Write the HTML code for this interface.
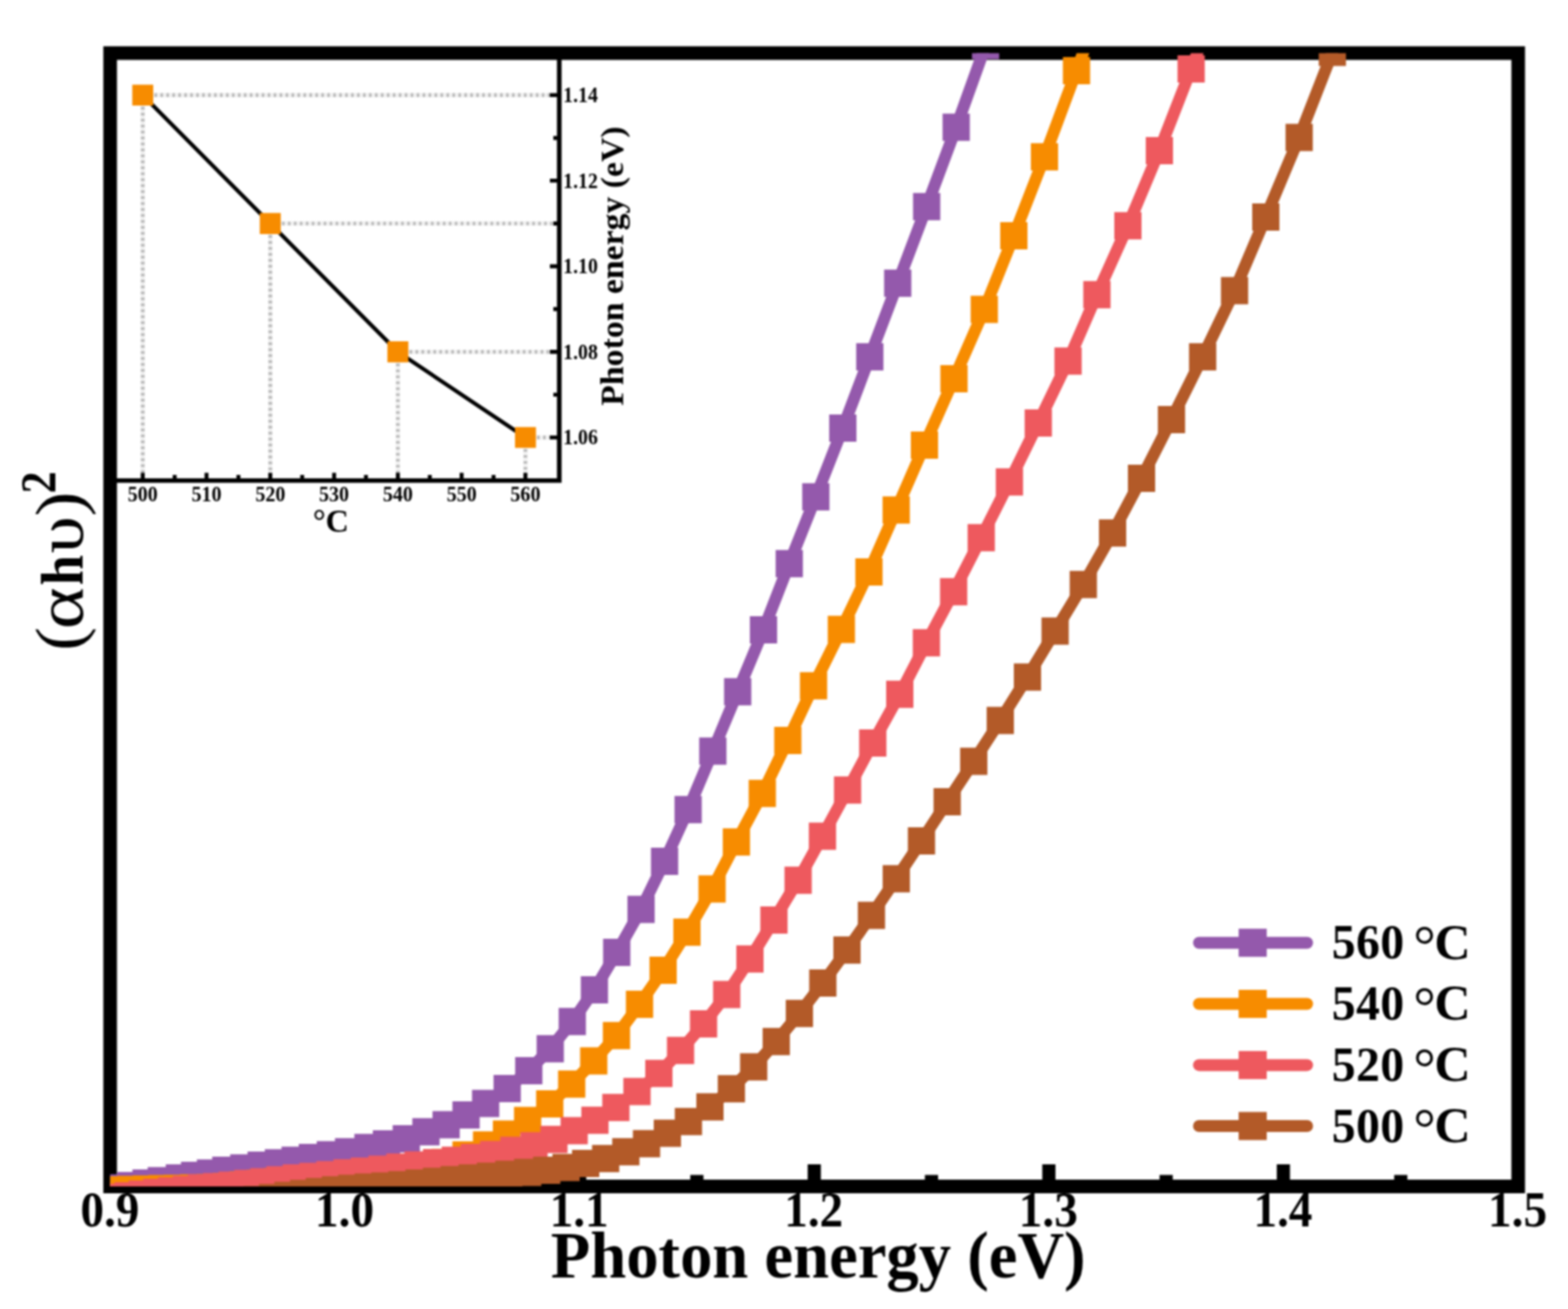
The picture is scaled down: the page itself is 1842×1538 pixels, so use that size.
<!DOCTYPE html>
<html lang="en">
<head>
<meta charset="utf-8">
<title>Tauc plot</title>
<style>
html,body{margin:0;padding:0;background:#fff;}
body{width:1842px;height:1538px;overflow:hidden;}
svg{display:block;filter:blur(0.9px);}
text{font-family:"Liberation Serif","DejaVu Serif",serif;font-weight:bold;fill:#000;}
</style>
</head>
<body>
<svg width="1842" height="1538" viewBox="0 0 1842 1538" role="img" aria-label="Tauc plot: (αhυ)2 versus photon energy for films annealed at 500 to 560 °C, with band-gap inset">
<defs><clipPath id="cp"><rect x="129.4" y="62.4" width="1654.1" height="1331.6"/></clipPath></defs>
<rect width="1842" height="1538" fill="#fff"/>
<g id="main-axes">
<rect x="129.4" y="62.4" width="1654.1" height="1331.6" fill="none" stroke="#000" stroke-width="16"/>
<path d="M275.3 1380.5v10h-15.5v-10zM413.1 1368v24h-15.5v-24zM550.9 1380.5v10h-15.5v-10zM688.7 1368v24h-15.5v-24zM826.4 1380.5v10h-15.5v-10zM964.3 1368v24h-15.5v-24zM1102 1380.5v10h-15.5v-10zM1239.9 1368v24h-15.5v-24zM1377.7 1380.5v10h-15.5v-10zM1515.4 1368v24h-15.5v-24zM1653.3 1380.5v10h-15.5v-10z" fill="#000"/>
</g>
<g id="inset">
<path d="M167.7 111.8H657M167.7 111.8V564.6M317.5 262.6H657M317.5 262.6V564.6M467.4 413.4H657M467.4 413.4V564.6M617.2 514H657M617.2 514V564.6" fill="none" stroke="#f0f0f0" stroke-width="5"/>
<path d="M167.7 111.8H657M167.7 111.8V564.6M317.5 262.6H657M317.5 262.6V564.6M467.4 413.4H657M467.4 413.4V564.6M617.2 514H657M617.2 514V564.6" fill="none" stroke="#b2b2b2" stroke-width="4.4" stroke-dasharray="2.6 4.4"/>
<path d="M657 62.4V564.6H129.4" fill="none" stroke="#000" stroke-width="5.4" stroke-linejoin="miter"/>
<path d="M167.7 564.6v-9M205.2 564.6v-6.5M242.6 564.6v-9M280.1 564.6v-6.5M317.5 564.6v-9M355 564.6v-6.5M392.5 564.6v-9M429.9 564.6v-6.5M467.4 564.6v-9M504.9 564.6v-6.5M542.3 564.6v-9M579.8 564.6v-6.5M617.2 564.6v-9M657 514h-11M657 463.7h-7M657 413.4h-11M657 363.1h-7M657 312.9h-11M657 262.6h-7M657 212.3h-11M657 162.1h-7M657 111.8h-11" fill="none" stroke="#000" stroke-width="4.6"/>
<path d="M167.7 111.8 L317.5 262.6 L467.4 413.4 L617.2 514" fill="none" stroke="#000" stroke-width="4.6"/>
<path d="M155.4 99.5h24.6v24.6h-24.6zM305.2 250.3h24.6v24.6h-24.6zM455.1 401.1h24.6v24.6h-24.6zM605 501.7h24.6v24.6h-24.6z" fill="#f78c00"/>
<text transform="translate(167.7 588.8) scale(0.96 1)" font-size="24.5" text-anchor="middle">500</text><text transform="translate(242.62 588.8) scale(0.96 1)" font-size="24.5" text-anchor="middle">510</text><text transform="translate(317.55 588.8) scale(0.96 1)" font-size="24.5" text-anchor="middle">520</text><text transform="translate(392.47 588.8) scale(0.96 1)" font-size="24.5" text-anchor="middle">530</text><text transform="translate(467.4 588.8) scale(0.96 1)" font-size="24.5" text-anchor="middle">540</text><text transform="translate(542.33 588.8) scale(0.96 1)" font-size="24.5" text-anchor="middle">550</text><text transform="translate(617.25 588.8) scale(0.96 1)" font-size="24.5" text-anchor="middle">560</text>
<text transform="translate(661.6 120.2) scale(0.95 1)" font-size="24.5">1.14</text><text transform="translate(661.6 220.74) scale(0.95 1)" font-size="24.5">1.12</text><text transform="translate(661.6 321.28) scale(0.95 1)" font-size="24.5">1.10</text><text transform="translate(661.6 421.82) scale(0.95 1)" font-size="24.5">1.08</text><text transform="translate(661.6 522.36) scale(0.95 1)" font-size="24.5">1.06</text>
<text transform="translate(388.6 625.3) scale(0.97 1)" font-size="39" text-anchor="middle">°C</text>
<text transform="translate(732.2 312.6) rotate(-90) scale(1.03 1)" font-size="38.5" text-anchor="middle">Photon energy (eV)</text>
</g>
<g id="curves" clip-path="url(#cp)">
<path d="M1193.3 -46.4 L1157.8 53.5 L1123.3 149.6 L1088.6 242.8 L1054.6 332.7 L1021.8 419.3 L990.1 502.9 L958.4 583.8 L927.2 662.2 L896.9 740.1 L866.6 812.7 L837.4 882.6 L808.4 951.3 L780.7 1012 L753.1 1068.5 L724.5 1119.1 L698.3 1162.9 L672.3 1200.3 L646.4 1232.2 L621.2 1258 L595.8 1279 L570.5 1296.5 L547.5 1310.1 L524.1 1321.5 L500.4 1329.7 L477.3 1338 L454 1344.1 L432.3 1348.3 L409.5 1353.3 L388.1 1356.8 L367 1360 L346.7 1363.2 L327.1 1366.2 L306.8 1368.9 L286.4 1372.2 L265.3 1375 L247.3 1378.2 L228.6 1381.1 L210.7 1384.1 L189.5 1387.2 L171.6 1390.1 L153.7 1392.9 L134 1395.8 L115 1398.5" fill="none" stroke="#9459ac" stroke-width="14" stroke-linejoin="round"/>
<path d="M1141.8 37.5h32v32h-32zM1107.3 133.6h32v32h-32zM1072.6 226.8h32v32h-32zM1038.6 316.7h32v32h-32zM1005.8 403.3h32v32h-32zM974.1 486.9h32v32h-32zM942.4 567.8h32v32h-32zM911.2 646.2h32v32h-32zM880.9 724.1h32v32h-32zM850.6 796.7h32v32h-32zM821.4 866.6h32v32h-32zM792.4 935.3h32v32h-32zM764.7 996h32v32h-32zM737.1 1052.5h32v32h-32zM708.5 1103.1h32v32h-32zM682.3 1146.9h32v32h-32zM656.3 1184.3h32v32h-32zM630.4 1216.2h32v32h-32zM605.2 1242h32v32h-32zM579.8 1263h32v32h-32zM554.5 1280.5h32v32h-32zM531.5 1294.1h32v32h-32zM508.1 1305.5h32v32h-32zM484.4 1313.7h32v32h-32zM461.3 1322h32v32h-32zM438 1328.1h32v32h-32zM416.3 1332.3h32v32h-32zM393.5 1337.3h32v32h-32zM372.1 1340.8h32v32h-32zM351 1344h32v32h-32zM330.7 1347.2h32v32h-32zM311.1 1350.2h32v32h-32zM290.8 1352.9h32v32h-32zM270.4 1356.2h32v32h-32zM249.3 1359h32v32h-32zM231.3 1362.2h32v32h-32zM212.6 1365.1h32v32h-32zM194.7 1368.1h32v32h-32zM173.5 1371.2h32v32h-32zM155.6 1374.1h32v32h-32zM137.7 1376.9h32v32h-32zM118 1379.8h32v32h-32zM99 1382.5h32v32h-32z" fill="#9459ac"/>
<path d="M1303.3 -22.1 L1264.6 83.1 L1227 184.3 L1191 277 L1156.3 363.6 L1120.7 445 L1086 523.1 L1052.8 599.3 L1020.8 672 L988.4 739.6 L955.7 805.7 L925.5 869.9 L895.5 932.3 L865.1 989.2 L836.5 1044.4 L807 1095.2 L779 1140.1 L751.3 1180.1 L724.2 1216.8 L697.5 1246.6 L671.6 1273.7 L645.8 1297.1 L619.8 1316.5 L595 1332.5 L571.6 1345.2 L547.5 1356.9 L523.1 1365.8 L499.8 1370.5 L476.8 1373.5 L454.2 1375.9 L431.9 1378 L410.1 1380 L388.5 1382.2 L367.3 1384.4 L346.4 1386.6 L325.8 1388.6 L305.6 1390.5 L285.6 1392.3 L265.9 1394.1 L246.6 1395.4 L227.5 1395.8 L208.7 1396.2 L190.2 1396.6 L171.9 1397 L153.9 1397.6 L136.1 1398.1 L118.6 1398.3 L101.4 1398.5" fill="none" stroke="#f78c00" stroke-width="14" stroke-linejoin="round"/>
<path d="M1248.6 67.1h32v32h-32zM1211 168.3h32v32h-32zM1175 261h32v32h-32zM1140.3 347.6h32v32h-32zM1104.7 429h32v32h-32zM1070 507.1h32v32h-32zM1036.8 583.3h32v32h-32zM1004.8 656h32v32h-32zM972.4 723.6h32v32h-32zM939.7 789.7h32v32h-32zM909.5 853.9h32v32h-32zM879.5 916.3h32v32h-32zM849.1 973.2h32v32h-32zM820.5 1028.4h32v32h-32zM791 1079.2h32v32h-32zM763 1124.1h32v32h-32zM735.3 1164.1h32v32h-32zM708.2 1200.8h32v32h-32zM681.5 1230.6h32v32h-32zM655.6 1257.7h32v32h-32zM629.8 1281.1h32v32h-32zM603.8 1300.5h32v32h-32zM579 1316.5h32v32h-32zM555.6 1329.2h32v32h-32zM531.5 1340.9h32v32h-32zM507.1 1349.8h32v32h-32zM483.8 1354.5h32v32h-32zM460.8 1357.5h32v32h-32zM438.2 1359.9h32v32h-32zM415.9 1362h32v32h-32zM394.1 1364h32v32h-32zM372.5 1366.2h32v32h-32zM351.3 1368.4h32v32h-32zM330.4 1370.6h32v32h-32zM309.8 1372.6h32v32h-32zM289.6 1374.5h32v32h-32zM269.6 1376.3h32v32h-32zM249.9 1378.1h32v32h-32zM230.6 1379.4h32v32h-32zM211.5 1379.8h32v32h-32zM192.7 1380.2h32v32h-32zM174.2 1380.6h32v32h-32zM155.9 1381h32v32h-32zM137.9 1381.6h32v32h-32zM120.1 1382.1h32v32h-32zM102.6 1382.3h32v32h-32zM85.4 1382.5h32v32h-32z" fill="#f78c00"/>
<path d="M1437.7 -18.7 L1399.3 81 L1362 176.9 L1325 265.2 L1288.6 346.2 L1254.7 424.2 L1219.7 496.9 L1185.8 566.3 L1152.7 631.8 L1120.3 695.2 L1088.3 755.2 L1057 815.7 L1025.3 872.9 L995.7 928.3 L966.2 982.5 L937.6 1034.2 L909.2 1081 L881 1126.7 L853.7 1168.4 L826.5 1203.1 L799.5 1234.3 L774 1261.3 L748.3 1282.5 L723.5 1301.2 L698.9 1316.2 L674.5 1328.4 L650.7 1338.7 L627.3 1346.2 L603.6 1351.4 L579.9 1356.5 L557.2 1360.1 L534.9 1363.2 L512.9 1366.1 L491.2 1368.8 L469.8 1371.3 L448.8 1373.7 L428.1 1376 L407.7 1378.1 L387.6 1380.2 L367.7 1382.2 L348.2 1384.1 L328.9 1386.2 L310 1388.4 L291.2 1390.6 L272.8 1392.5 L254.6 1394.2 L236.6 1395.7 L218.9 1397.4 L201.5 1399.2 L184.2 1401.1 L167.2 1403 L150.5 1404.9 L133.9 1406.7 L117.6 1408.3 L101.5 1409.9" fill="none" stroke="#ee595e" stroke-width="14" stroke-linejoin="round"/>
<path d="M1383.3 65h32v32h-32zM1346 160.9h32v32h-32zM1309 249.2h32v32h-32zM1272.6 330.2h32v32h-32zM1238.7 408.2h32v32h-32zM1203.7 480.9h32v32h-32zM1169.8 550.3h32v32h-32zM1136.7 615.8h32v32h-32zM1104.3 679.2h32v32h-32zM1072.3 739.2h32v32h-32zM1041 799.7h32v32h-32zM1009.3 856.9h32v32h-32zM979.7 912.3h32v32h-32zM950.2 966.5h32v32h-32zM921.6 1018.2h32v32h-32zM893.2 1065h32v32h-32zM865 1110.7h32v32h-32zM837.7 1152.4h32v32h-32zM810.5 1187.1h32v32h-32zM783.5 1218.3h32v32h-32zM758 1245.3h32v32h-32zM732.3 1266.5h32v32h-32zM707.5 1285.2h32v32h-32zM682.9 1300.2h32v32h-32zM658.5 1312.4h32v32h-32zM634.7 1322.7h32v32h-32zM611.3 1330.2h32v32h-32zM587.6 1335.4h32v32h-32zM563.9 1340.5h32v32h-32zM541.2 1344.1h32v32h-32zM518.9 1347.2h32v32h-32zM496.9 1350.1h32v32h-32zM475.2 1352.8h32v32h-32zM453.8 1355.3h32v32h-32zM432.8 1357.7h32v32h-32zM412.1 1360h32v32h-32zM391.7 1362.1h32v32h-32zM371.6 1364.2h32v32h-32zM351.7 1366.2h32v32h-32zM332.2 1368.1h32v32h-32zM312.9 1370.2h32v32h-32zM294 1372.4h32v32h-32zM275.2 1374.6h32v32h-32zM256.8 1376.5h32v32h-32zM238.6 1378.2h32v32h-32zM220.6 1379.7h32v32h-32zM202.9 1381.4h32v32h-32zM185.5 1383.2h32v32h-32zM168.2 1385.1h32v32h-32zM151.2 1387h32v32h-32zM134.5 1388.9h32v32h-32zM117.9 1390.7h32v32h-32zM101.6 1392.3h32v32h-32zM85.5 1393.9h32v32h-32z" fill="#ee595e"/>
<path d="M1605.4 -42.4 L1565.2 61.5 L1526.2 161.4 L1487 255 L1450.3 341.4 L1412.8 419.2 L1376.2 492.9 L1341 562.1 L1307 626.3 L1272.6 686.8 L1239.5 741.6 L1207 795.4 L1175.1 846.4 L1143.9 894.6 L1112.7 942 L1082.5 988 L1052.9 1032.4 L1023.7 1075.4 L995 1116.3 L966.6 1155.1 L939.1 1190.8 L911.9 1223.8 L885.4 1253.5 L859.2 1279.2 L834 1300.5 L808.7 1317.7 L784 1331.4 L759.5 1343.7 L735.2 1353.3 L711.5 1361.3 L688 1367.1 L665 1371.8 L642.3 1375 L619.9 1377.5 L597.8 1379.8 L576.1 1381.9 L554.7 1383.9 L533.6 1385.9 L512.8 1387.9 L492.3 1390 L472.1 1391.9 L452.2 1393.5 L432.5 1394.8 L413.2 1396.2 L394.1 1398 L375.2 1400.1 L356.7 1402.3 L338.3 1404.6 L320.3 1407 L302.4 1409.4 L284.8 1411.7 L267.4 1413.8 L250.3 1415.9 L233.4 1418 L216.7 1420 L200.2 1422 L183.9 1423.8 L167.8 1425.7 L152 1427.5 L136.3 1429.2 L120.8 1430.9 L105.5 1432.4" fill="none" stroke="#b35a28" stroke-width="14" stroke-linejoin="round"/>
<path d="M1549.2 45.5h32v32h-32zM1510.2 145.4h32v32h-32zM1471 239h32v32h-32zM1434.3 325.4h32v32h-32zM1396.8 403.2h32v32h-32zM1360.2 476.9h32v32h-32zM1325 546.1h32v32h-32zM1291 610.3h32v32h-32zM1256.6 670.8h32v32h-32zM1223.5 725.6h32v32h-32zM1191 779.4h32v32h-32zM1159.1 830.4h32v32h-32zM1127.9 878.6h32v32h-32zM1096.7 926h32v32h-32zM1066.5 972h32v32h-32zM1036.9 1016.4h32v32h-32zM1007.7 1059.4h32v32h-32zM979 1100.3h32v32h-32zM950.6 1139.1h32v32h-32zM923.1 1174.8h32v32h-32zM895.9 1207.8h32v32h-32zM869.4 1237.5h32v32h-32zM843.2 1263.2h32v32h-32zM818 1284.5h32v32h-32zM792.7 1301.7h32v32h-32zM768 1315.4h32v32h-32zM743.5 1327.7h32v32h-32zM719.2 1337.3h32v32h-32zM695.5 1345.3h32v32h-32zM672 1351.1h32v32h-32zM649 1355.8h32v32h-32zM626.3 1359h32v32h-32zM603.9 1361.5h32v32h-32zM581.8 1363.8h32v32h-32zM560.1 1365.9h32v32h-32zM538.7 1367.9h32v32h-32zM517.6 1369.9h32v32h-32zM496.8 1371.9h32v32h-32zM476.3 1374h32v32h-32zM456.1 1375.9h32v32h-32zM436.2 1377.5h32v32h-32zM416.5 1378.8h32v32h-32zM397.2 1380.2h32v32h-32zM378.1 1382h32v32h-32zM359.2 1384.1h32v32h-32zM340.7 1386.3h32v32h-32zM322.3 1388.6h32v32h-32zM304.3 1391h32v32h-32zM286.4 1393.4h32v32h-32zM268.8 1395.7h32v32h-32zM251.4 1397.8h32v32h-32zM234.3 1399.9h32v32h-32zM217.4 1402h32v32h-32zM200.7 1404h32v32h-32zM184.2 1406h32v32h-32zM167.9 1407.8h32v32h-32zM151.8 1409.7h32v32h-32zM136 1411.5h32v32h-32zM120.3 1413.2h32v32h-32zM104.8 1414.9h32v32h-32zM89.5 1416.4h32v32h-32z" fill="#b35a28"/>
</g>
<g id="legend">
<path d="M1408.5 1107.7H1535.5" stroke="#9459ac" stroke-width="14" stroke-linecap="round" fill="none"/><rect x="1455.1" y="1091.2" width="33" height="33" fill="#9459ac"/><text y="1126.3" font-size="56"><tspan x="1564.6" letter-spacing="0.5">560 </tspan><tspan x="1660.2" y="1133.1" font-size="66" style="font-weight:normal">°</tspan><tspan x="1684.9" y="1126.5" font-size="59">C</tspan></text>
<path d="M1408.5 1179.5H1535.5" stroke="#f78c00" stroke-width="14" stroke-linecap="round" fill="none"/><rect x="1455.1" y="1163" width="33" height="33" fill="#f78c00"/><text y="1198.1" font-size="56"><tspan x="1564.6" letter-spacing="0.5">540 </tspan><tspan x="1660.2" y="1204.9" font-size="66" style="font-weight:normal">°</tspan><tspan x="1684.9" y="1198.3" font-size="59">C</tspan></text>
<path d="M1408.5 1251.4H1535.5" stroke="#ee595e" stroke-width="14" stroke-linecap="round" fill="none"/><rect x="1455.1" y="1234.9" width="33" height="33" fill="#ee595e"/><text y="1270" font-size="56"><tspan x="1564.6" letter-spacing="0.5">520 </tspan><tspan x="1660.2" y="1276.8" font-size="66" style="font-weight:normal">°</tspan><tspan x="1684.9" y="1270.2" font-size="59">C</tspan></text>
<path d="M1408.5 1323H1535.5" stroke="#b35a28" stroke-width="14" stroke-linecap="round" fill="none"/><rect x="1455.1" y="1306.5" width="33" height="33" fill="#b35a28"/><text y="1341.6" font-size="56"><tspan x="1564.6" letter-spacing="0.5">500 </tspan><tspan x="1660.2" y="1348.4" font-size="66" style="font-weight:normal">°</tspan><tspan x="1684.9" y="1341.8" font-size="59">C</tspan></text>
</g>
<g id="labels">
<text transform="translate(129.1 1440.5) scale(0.95 1)" font-size="58.4" text-anchor="middle">0.9</text><text transform="translate(404.7 1440.5) scale(0.95 1)" font-size="58.4" text-anchor="middle">1.0</text><text transform="translate(680.3 1440.5) scale(0.95 1)" font-size="58.4" text-anchor="middle">1.1</text><text transform="translate(955.9 1440.5) scale(0.95 1)" font-size="58.4" text-anchor="middle">1.2</text><text transform="translate(1231.5 1440.5) scale(0.95 1)" font-size="58.4" text-anchor="middle">1.3</text><text transform="translate(1507.1 1440.5) scale(0.95 1)" font-size="58.4" text-anchor="middle">1.4</text><text transform="translate(1782.7 1440.5) scale(0.95 1)" font-size="58.4" text-anchor="middle">1.5</text>
<text transform="translate(961.2 1501.2) scale(0.981 1)" font-size="77.4" text-anchor="middle">Photon energy (eV)</text>
<g id="ylabel">
<text transform="translate(96.5 764.6) rotate(-90)"><tspan x="0" y="-0.5" font-size="78.9" style="font-weight:normal" textLength="27.69" lengthAdjust="spacingAndGlyphs">(</tspan><tspan x="25.4" y="0" font-size="78.3" style="font-weight:normal" textLength="49.11" lengthAdjust="spacingAndGlyphs">α</tspan><tspan x="76.9" y="0" font-size="69.9" style="font-weight:bold" textLength="35.64" lengthAdjust="spacingAndGlyphs">h</tspan><tspan x="114.3" y="0" font-size="79.2" style="font-weight:normal" textLength="43.67" lengthAdjust="spacingAndGlyphs">υ</tspan><tspan x="157.8" y="-0.5" font-size="78.9" style="font-weight:normal" textLength="29.16" lengthAdjust="spacingAndGlyphs">)</tspan><tspan x="184.9" y="-31.3" font-size="58.9" style="font-weight:bold" textLength="25.92" lengthAdjust="spacingAndGlyphs">2</tspan></text>
</g>
</g>
</svg>
</body>
</html>
